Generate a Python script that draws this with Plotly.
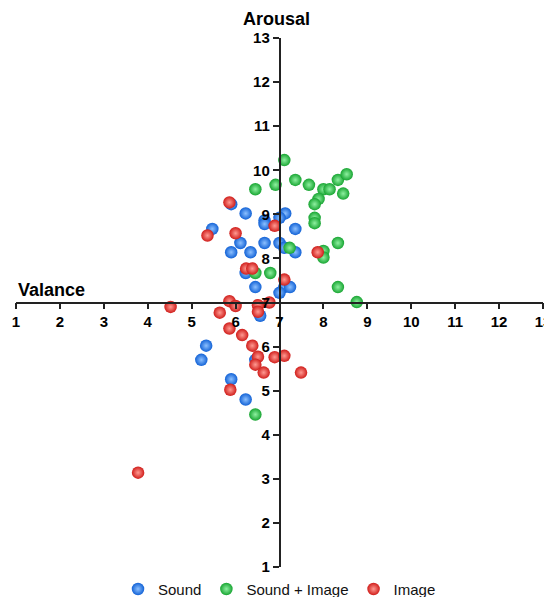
import plotly.graph_objects as go

# Valence (x) / Arousal (y) values
sound_x = [5.90, 6.23, 7.13, 7.00, 6.66, 6.66, 5.47, 7.36, 6.11, 6.66, 7.00, 5.90, 6.34,
           7.11, 7.36, 6.23, 6.45, 7.11, 7.24, 7.00, 6.56, 5.33, 5.22, 6.45, 5.90, 6.23]
sound_y = [9.23, 9.02, 9.02, 8.92, 8.86, 8.78, 8.67, 8.67, 8.35, 8.35, 8.35, 8.14, 8.14,
           8.24, 8.14, 7.67, 7.35, 7.35, 7.35, 7.22, 6.70, 6.02, 5.70, 5.70, 5.26, 4.80]

both_x = [7.11, 6.45, 6.91, 7.36, 7.67, 8.00, 8.14, 8.33, 8.53, 8.45, 7.89, 7.80, 7.80,
          7.80, 8.33, 8.00, 8.00, 7.23, 6.45, 6.79, 8.33, 8.76, 6.45]
both_y = [10.23, 9.57, 9.67, 9.78, 9.67, 9.57, 9.57, 9.78, 9.91, 9.47, 9.35, 9.23, 8.92,
          8.80, 8.35, 8.17, 8.02, 8.24, 7.67, 7.67, 7.35, 7.01, 4.46]

image_x = [5.86, 5.36, 6.00, 6.89, 6.24, 6.38, 7.87, 7.11, 4.52, 5.86, 6.00, 5.64, 6.51,
           6.51, 6.77, 5.86, 6.15, 6.38, 6.51, 6.45, 6.89, 7.11, 6.64, 7.49, 5.88, 3.78]
image_y = [9.27, 8.52, 8.57, 8.74, 7.77, 7.77, 8.14, 7.52, 6.90, 7.03, 6.92, 6.77, 6.94,
           6.79, 7.00, 6.41, 6.26, 6.02, 5.77, 5.59, 5.76, 5.79, 5.41, 5.41, 5.02, 3.14]

tick_vals = list(range(1, 14))
tick_text = ["<b>%d</b>" % v for v in tick_vals]

series = [
    ("Sound", sound_x, sound_y, "#1262d6", "#8cc0ff"),
    ("Sound + Image", both_x, both_y, "#18a532", "#8ef0a0"),
    ("Image", image_x, image_y, "#d01d1a", "#ff9a92"),
]

FONT = "Liberation Sans, Arial, sans-serif"

fig = go.Figure()
for name, xs, ys, col, light in series:
    fig.add_trace(go.Scatter(
        x=xs, y=ys, mode="markers", name=name,
        marker=dict(size=12.5, color=col,
                    gradient=dict(type="radial", color=light),
                    line=dict(width=0)),
    ))

axis_common = dict(
    range=[1, 13], tickvals=tick_vals, ticktext=tick_text,
    showgrid=False, zeroline=False, showline=True, linecolor="#222",
    linewidth=1.5, ticks="outside", ticklen=6, tickwidth=1.5, tickcolor="#222",
    tickfont=dict(family=FONT, size=15, color="#000"),
    anchor="free", position=0.5, automargin=False, ticklabeloverflow="allow",
)

# page body adds an 8px offset, so the figure is sized to the remaining space
fig.update_layout(
    width=544, height=589,
    margin=dict(l=8, r=9, t=30, b=30, autoexpand=False),
    paper_bgcolor="white", plot_bgcolor="white",
    xaxis=dict(**axis_common, side="bottom"),
    yaxis=dict(**axis_common, side="left"),
    showlegend=True,
    legend=dict(orientation="h", x=0.5, xanchor="center", y=-0.042, yanchor="middle",
                font=dict(family=FONT, size=15, color="#111"),
                itemwidth=30, tracegroupgap=0),
    annotations=[
        dict(text="<b>Arousal</b>", x=7, xref="x", y=1, yref="paper",
             xanchor="center", yanchor="bottom", yshift=7, xshift=-3, showarrow=False,
             font=dict(family=FONT, size=18, color="#000")),
        dict(text="<b>Valance</b>", x=1, xref="x", y=7, yref="y",
             xanchor="left", yanchor="bottom", yshift=1, showarrow=False,
             font=dict(family=FONT, size=18, color="#000")),
    ],
)

fig.write_html("out.html")
